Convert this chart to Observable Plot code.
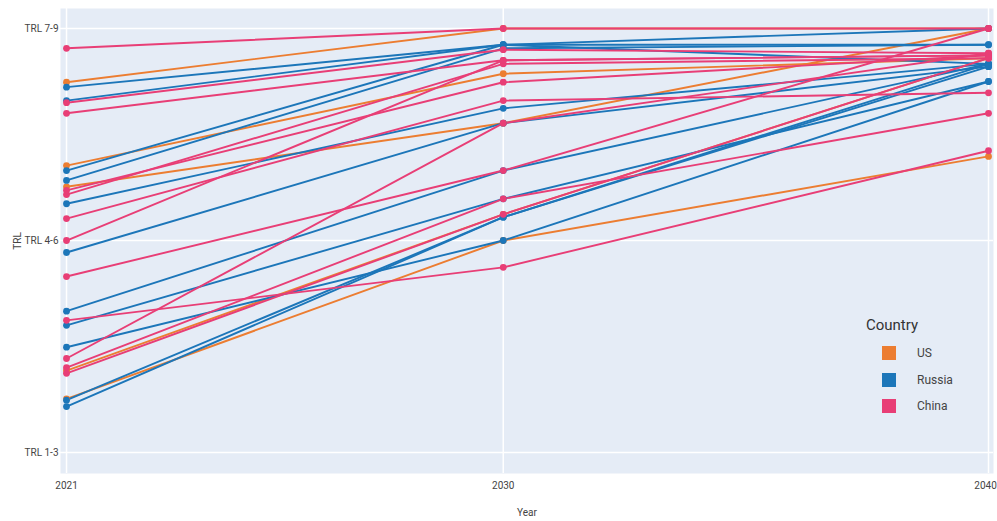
<!DOCTYPE html>
<html>
<head>
<meta charset="utf-8">
<script src="https://cdn.jsdelivr.net/npm/d3@7"></script>
<script src="https://cdn.jsdelivr.net/npm/@observablehq/plot@0.6"></script>
<style>
  html, body { margin: 0; padding: 0; background: #fff; }
  #wrap { position: relative; width: 997px; height: 521px; font-family: "Roboto", "Liberation Sans", sans-serif; }
  #legend { position: absolute; left: 866px; top: 316px; color: #333; }
  #legend .title { font-size: 15px; margin-bottom: 6px; }
  #legend .row { display: flex; align-items: center; height: 26.5px; padding-left: 16px; font-size: 12px; color: #444; }
  #legend .sw { width: 14px; height: 14px; margin-right: 21px; }
</style>
</head>
<body>
<div id="wrap"></div>
<script>
// ---- data ----
const years = [2021, 2030, 2040];
const countries = ["US", "Russia", "China"];
const countryColors = ["#ec7d31", "#1c76b9", "#e83e76"];
const trlTicks = [2, 5, 8];
const trlLabels = ["TRL 1-3", "TRL 4-6", "TRL 7-9"];

// each row: TRL level at 2021, 2030, 2040
const usLines = [
  [7.24, 8.00, 8.00],
  [6.06, 7.36, 7.58],
  [5.76, 6.66, 8.00],
  [3.16, 5.37, 7.58],
  [2.76, 5.00, 6.19]
];
const russiaLines = [
  [7.17, 7.77, 7.77],
  [6.98, 7.77, 8.00],
  [5.99, 7.77, 7.50],
  [5.85, 7.72, 7.77],
  [5.52, 6.87, 7.50],
  [4.83, 6.66, 7.46],
  [4.00, 5.99, 7.50],
  [3.80, 5.59, 7.25],
  [3.49, 5.00, 7.25],
  [2.74, 5.33, 7.50],
  [2.65, 5.33, 7.46]
];
const chinaLines = [
  [7.72, 8.00, 8.00],
  [6.95, 7.70, 7.65],
  [6.80, 7.55, 7.62],
  [5.71, 7.24, 7.62],
  [5.65, 7.50, 7.58],
  [5.31, 6.98, 7.09],
  [5.00, 7.55, 7.62],
  [4.49, 5.99, 8.00],
  [3.87, 4.62, 6.27],
  [3.33, 6.66, 7.65],
  [3.20, 5.59, 6.80],
  [3.12, 5.37, 7.58]
];

// ---- build table ----
const rows = [];
[[countries[0], usLines], [countries[1], russiaLines], [countries[2], chinaLines]].forEach(([c, lines]) => {
  lines.forEach((vals, i) => {
    vals.forEach((v, j) => rows.push({country: c, id: c + i, year: years[j], trl: v}));
  });
});

const fontStack = '"Roboto", "Liberation Sans", sans-serif';

const chart = Plot.plot({
  width: 997,
  height: 521,
  marginLeft: 60,
  marginRight: 4,
  marginTop: 8,
  marginBottom: 48,
  style: {fontFamily: fontStack, fontSize: "10px", color: "#444", background: "#fff"},
  x: {domain: [2020.876, 2040.103]},
  y: {domain: [1.703, 8.283]},
  color: {domain: countries, range: countryColors},
  marks: [
    Plot.frame({fill: "#e5ecf6", stroke: null}),
    Plot.gridY(trlTicks, {stroke: "#fff", strokeOpacity: 1, strokeWidth: 1.5}),
    Plot.gridX(years, {stroke: "#fff", strokeOpacity: 1, strokeWidth: 1.5}),
    Plot.axisY(trlTicks, {tickSize: 0, tickPadding: 2, tickFormat: d => trlLabels[trlTicks.indexOf(d)],
      label: "TRL", labelAnchor: "center", labelOffset: 47, labelArrow: "none", fontSize: 10}),
    Plot.axisX(years.slice(0, 2), {tickSize: 0, tickPadding: 8, tickFormat: d => String(d),
      label: "Year", labelAnchor: "center", labelOffset: 42, labelArrow: "none", fontSize: 10}),
    Plot.axisX(years.slice(2), {tickSize: 0, tickPadding: 8, tickFormat: d => String(d),
      label: null, fontSize: 10, dx: -3}),
    Plot.line(rows, {x: "year", y: "trl", z: "id", stroke: "country", strokeWidth: 1.9, curve: "linear"}),
    Plot.dot(rows, {x: "year", y: "trl", fill: "country", r: 3.4, stroke: null})
  ]
});

const wrap = document.getElementById("wrap");
wrap.appendChild(chart);

// legend
const lg = document.createElement("div");
lg.id = "legend";
const t = document.createElement("div");
t.className = "title";
t.textContent = "Country";
lg.appendChild(t);
countries.forEach((c, i) => {
  const r = document.createElement("div");
  r.className = "row";
  const s = document.createElement("div");
  s.className = "sw";
  s.style.background = countryColors[i];
  const l = document.createElement("span");
  l.textContent = c;
  r.appendChild(s);
  r.appendChild(l);
  lg.appendChild(r);
});
wrap.appendChild(lg);
</script>
</body>
</html>
